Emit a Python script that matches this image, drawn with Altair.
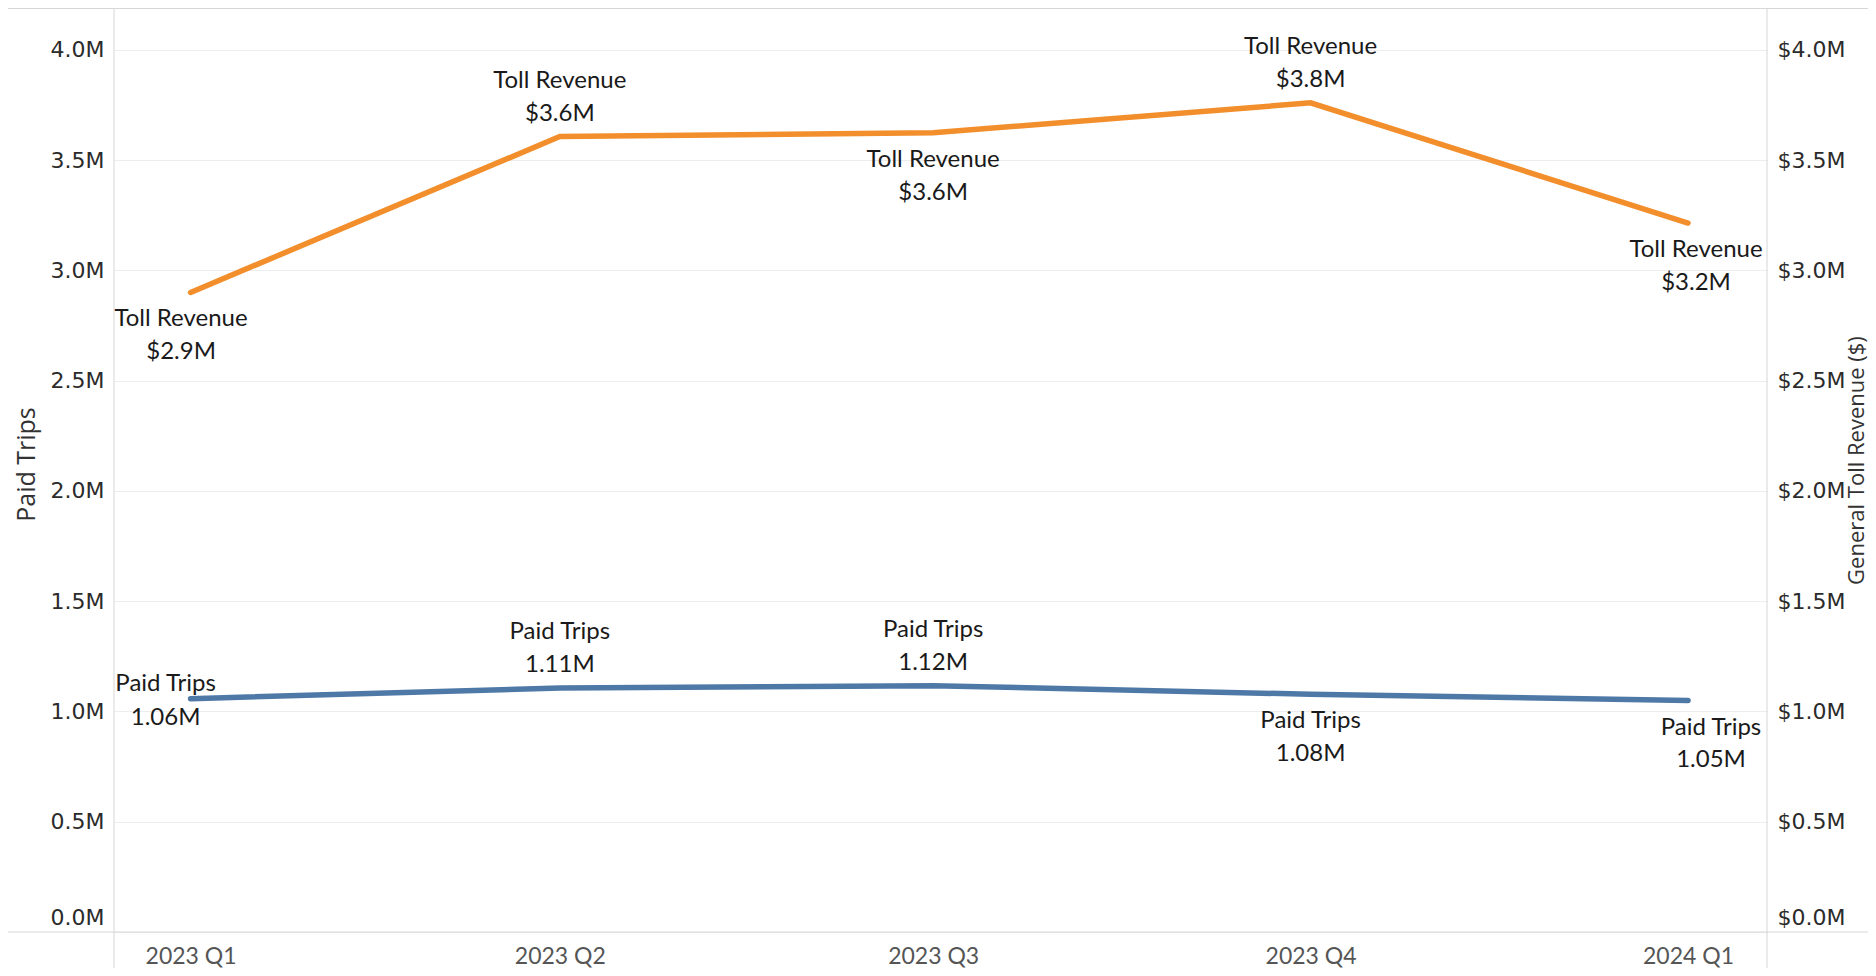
import altair as alt
import pandas as pd

# ---------------- data ----------------
quarter_dates = ["2023-01-01", "2023-04-01", "2023-07-01", "2023-10-01", "2024-01-01"]
paid_trips = [1058000, 1106000, 1117000, 1078000, 1050000]
toll_revenue = [2900000, 3607000, 3624000, 3760000, 3215000]
paid_text = ["1.06M", "1.11M", "1.12M", "1.08M", "1.05M"]
toll_text = ["$2.9M", "$3.6M", "$3.6M", "$3.8M", "$3.2M"]
paid_slots = ["paid_first", "above", "above", "below", "paid_last"]
toll_slots = ["toll_first", "above", "below", "above", "toll_last"]
y_ticks = [0, 500000, 1000000, 1500000, 2000000, 2500000, 3000000, 3500000, 4000000]

paid_df = pd.DataFrame({"date": quarter_dates, "value": paid_trips,
                        "name": "Paid Trips", "amount": paid_text, "slot": paid_slots})
toll_df = pd.DataFrame({"date": quarter_dates, "value": toll_revenue,
                        "name": "Toll Revenue", "amount": toll_text, "slot": toll_slots})

# ---------------- styling ----------------
W, H = 1653, 924
PAD_L, PAD_R, PAD_B = 106, 101, 36
Y_DOMAIN = [0, 4190000]
X_DOMAIN = [alt.DateTime(year=2022, month=12, date=13, hours=8, utc=True),
            alt.DateTime(year=2024, month=1, date=20, hours=6, utc=True)]
x_tick_values = [int(pd.Timestamp(d).value // 10**6) for d in quarter_dates]
BLUE = "#4E79A7"
ORANGE = "#F28E2B"
AX_FONT = "DejaVu Sans"
TXT_FONT = "Lato"
TITLE_FONT = "Open Sans"

# (dx, dy first line, dy second line)
SLOT_STYLE = {
    "above": (0, -56, -23),
    "below": (0, 27, 60),
    "toll_first": (-9.5, 27, 60),
    "toll_last": (8, 27, 60),
    "paid_first": (-25, -15, 19),
    "paid_last": (23, 27.5, 60),
}

x_enc = alt.X(
    "date:T", title=None,
    scale=alt.Scale(type="utc", domain=X_DOMAIN, nice=False),
    axis=alt.Axis(values=x_tick_values,
                  labelExpr="utcFormat(datum.value, '%Y') + ' Q' + utcquarter(datum.value)",
                  labelFont=TXT_FONT, labelFontSize=23, labelColor="#555555",
                  labelAngle=0, ticks=False, domain=False, grid=False,
                  labelPadding=24, labelBaseline="middle", labelFlush=False,
                  labelOverlap=False),
)


def y_enc(orient, prefix, grid, title, title_x, title_y, title_size):
    return alt.Y(
        "value:Q",
        scale=alt.Scale(domain=Y_DOMAIN, nice=False, zero=False),
        axis=alt.Axis(
            orient=orient, values=y_ticks,
            labelExpr=f"'{prefix}' + format(datum.value / 1000000, '.1f') + 'M'",
            labelFont=AX_FONT, labelFontSize=22, labelColor="#2b2b2b",
            labelPadding=10, ticks=False, domain=False,
            labelFlush=3, labelFlushOffset=-3,
            grid=grid, gridColor="#ededed", gridWidth=1,
            title=title, titleFont=TITLE_FONT, titleFontSize=title_size,
            titleFontWeight="normal", titleColor="#333333",
            titleAngle=270, titleBaseline="middle", titleAlign="center",
            titleX=title_x, titleY=title_y,
        ),
    )


y_left = y_enc("left", "", True, "Paid Trips", -88, 456, 25)
y_right = y_enc("right", "$", False, "General Toll Revenue ($)", 89, 452, 22)


def label_layers(df, y):
    layers = []
    present = set(df["slot"])
    for slot, (dx, dy1, dy2) in SLOT_STYLE.items():
        if slot not in present:
            continue
        base = alt.Chart(df).transform_filter(alt.datum.slot == slot)
        for field, dy in (("name", dy1), ("amount", dy2)):
            layers.append(
                base.mark_text(font=TXT_FONT, fontSize=24, color="#1a1a1a",
                               dx=dx, dy=dy, baseline="middle", align="center")
                .encode(x=x_enc, y=y, text=f"{field}:N")
            )
    return layers


deco_df = pd.DataFrame({"k": [0]})
GRAYLINE = "#d6d6d6"
deco = [
    alt.Chart(deco_df).mark_rule(color=GRAYLINE, strokeWidth=1).encode(
        x=alt.value(0), y=alt.value(0), y2=alt.value(H + PAD_B)),
    alt.Chart(deco_df).mark_rule(color=GRAYLINE, strokeWidth=1).encode(
        x=alt.value(W), y=alt.value(0), y2=alt.value(H + PAD_B)),
    alt.Chart(deco_df).mark_rule(color=GRAYLINE, strokeWidth=1).encode(
        x=alt.value(-PAD_L), x2=alt.value(W + PAD_R), y=alt.value(H)),
    alt.Chart(deco_df).mark_rule(color=GRAYLINE, strokeWidth=1).encode(
        x=alt.value(-PAD_L), x2=alt.value(W + PAD_R), y=alt.value(0.5)),
]

paid_line = alt.Chart(paid_df).mark_line(color=BLUE, strokeWidth=5.5, strokeCap="round").encode(
    x=x_enc, y=y_left)
toll_line = alt.Chart(toll_df).mark_line(color=ORANGE, strokeWidth=5.5, strokeCap="round").encode(
    x=x_enc, y=y_right)

layer_a = alt.layer(paid_line, *deco, *label_layers(paid_df, y_left))
layer_b = alt.layer(toll_line, *label_layers(toll_df, y_right))

chart = (
    alt.layer(layer_a, layer_b)
    .resolve_scale(y="independent")
    .resolve_axis(y="independent")
    .properties(
        width=W, height=H,
        autosize=alt.AutoSizeParams(type="none"),
        padding={"left": PAD_L, "top": 0, "right": PAD_R, "bottom": PAD_B},
        background="white",
    )
    .configure_view(stroke=None)
)

chart.save("out.html", embed_options={"renderer": "svg", "actions": False})
